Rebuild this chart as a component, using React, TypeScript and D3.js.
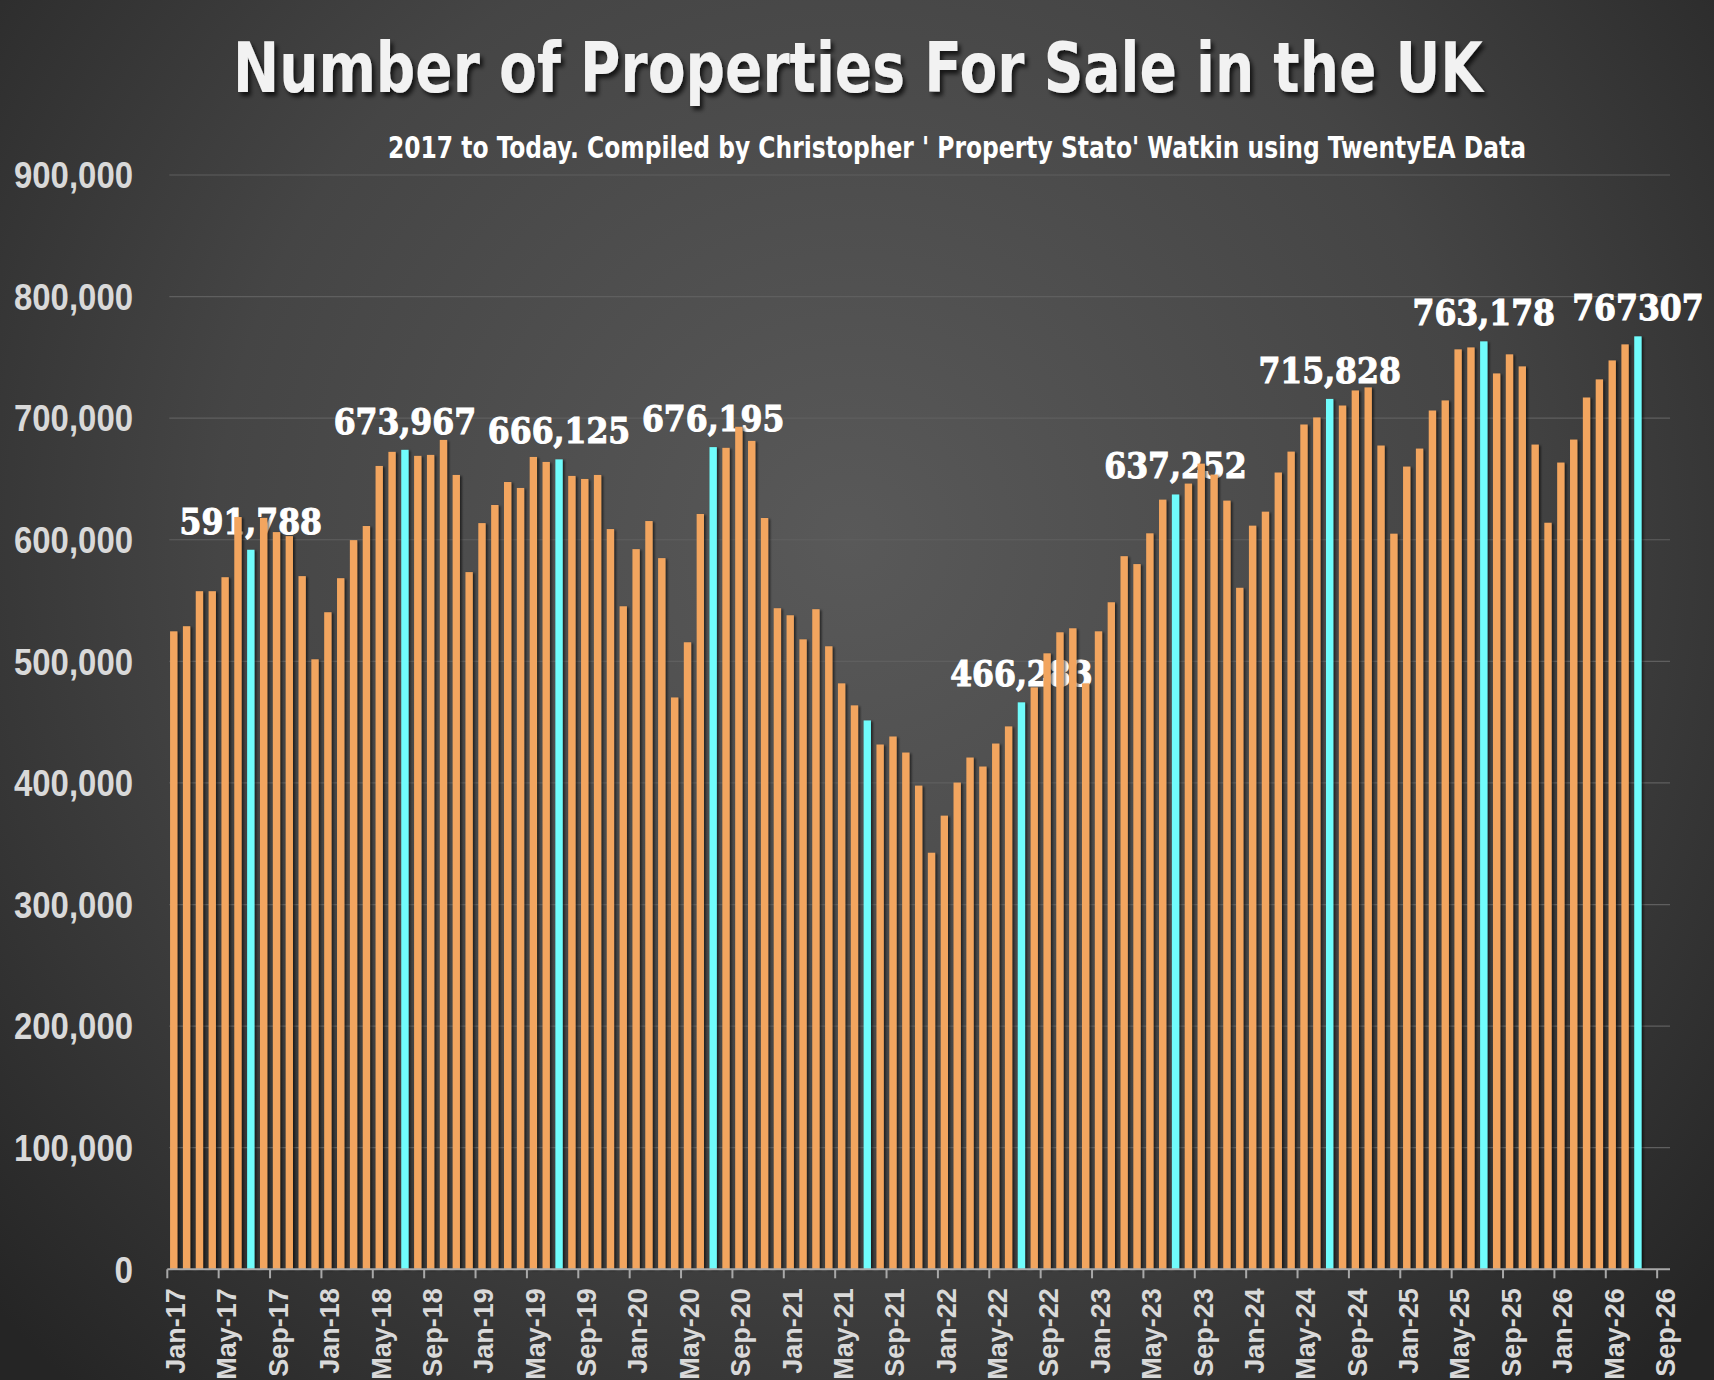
import React from 'react';
import { scaleBand, scaleLinear, utcMonth, utcFormat, format } from 'd3';

const W = 1714;
const H = 1380;

// monthly listings, Jan-17 .. Jul-26
const listings = [
  524700, 528900, 557700, 557700, 569200, 618700, 591788, 618000, 606300, 603000, 570100, 501700,
  540400, 568400, 599700, 611300, 660700, 672300, 673967, 669000, 669800, 682100, 653300, 573400,
  613700, 628600, 647500, 642600, 668100, 664000, 666125, 652500, 650000, 653300, 608800, 545300,
  592300, 615400, 584900, 470300, 515700, 621200, 676195, 675600, 692900, 681300, 617900, 543700,
  537900, 518100, 542900, 512400, 481900, 463800, 451400, 431600, 438200, 425000, 397800, 342600,
  373100, 400300, 420900, 413500, 432400, 446500, 466283, 478600, 506600, 523900, 527200, 481900,
  524700, 548600, 586500, 580000, 605300, 633000, 637252, 646200, 662600, 653600, 632200, 560500,
  611600, 623100, 655300, 672500, 694800, 700600, 715828, 710400, 722800, 725300, 677500, 605000,
  660200, 675000, 706300, 714600, 756600, 758200, 763178, 736800, 752500, 742600, 678300, 614000,
  663500, 682400, 717000, 731900, 747500, 760700, 767307,
];

// July bars are highlighted and labelled
const highlightLabels = [
  '591,788', '673,967', '666,125', '676,195', '', '466,283', '637,252', '715,828', '763,178', '767307',
];

const tickLabels = [
  'Jan-17', 'May-17', 'Sep-17', 'Jan-18', 'May-18', 'Sep-18', 'Jan-19', 'May-19', 'Sep-19',
  'Jan-20', 'May-20', 'Sep-20', 'Jan-21', 'May-21', 'Sep-21', 'Jan-22', 'May-22', 'Sep-22',
  'Jan-23', 'May-23', 'Sep-23', 'Jan-24', 'May-24', 'Sep-24', 'Jan-25', 'May-25', 'Sep-25',
  'Jan-26', 'May-26', 'Sep-26',
];

const yTicks = [0, 100000, 200000, 300000, 400000, 500000, 600000, 700000, 800000, 900000];

const fmtMonth = utcFormat('%b-%y');
const months = utcMonth
  .range(new Date(Date.UTC(2017, 0, 1)), new Date(Date.UTC(2026, 9, 1)))
  .map(d => fmtMonth(d));

const title = 'Number of Properties For Sale in the UK';
const subtitle = "2017 to Today. Compiled by Christopher ' Property Stato' Watkin using TwentyEA Data";

const x0 = 167.3;
const x1 = 1670;
const yBase = 1269.3;
const yTop = 175;

// narrow DIN-ish width for the y labels
const labelWidth = (s: string) => s.split('').reduce((w, c) => w + (c === ',' ? 8 : 18.5), 0);

const App: React.FC = () => {
  const slot = scaleBand<string>().domain(months).range([x0, x1]).padding(0);
  const xScale = scaleBand<string>().domain(months).range([x0, x1]).paddingInner(0.43).paddingOuter(0.215);
  const yScale = scaleLinear().domain([0, 900000]).range([yBase, yTop]);

  const bars = listings.map((v, i) => ({ month: months[i], value: v, july: i % 12 === 6 }));
  const labelled = bars.filter(b => b.july).map((b, k) => ({ ...b, text: highlightLabels[k] }));

  const headFont = "'DejaVu Sans Condensed', 'Liberation Sans', sans-serif";

  return (
    <div style={{ position: 'absolute', left: 0, top: 0, width: W, height: H }}>
      <svg width={W} height={H} style={{ display: 'block' }}>
        <defs>
          <radialGradient id="bg" gradientUnits="userSpaceOnUse" cx={850} cy={540} r={1150}>
            <stop offset="0" stopColor="#595959" />
            <stop offset="0.55" stopColor="#454545" />
            <stop offset="1" stopColor="#252525" />
          </radialGradient>
          <filter id="titleShadow" x="-10%" y="-30%" width="120%" height="160%">
            <feDropShadow dx="3" dy="4" stdDeviation="2" floodColor="#000" floodOpacity="0.7" />
          </filter>
          <filter id="barShadow" x="-50%" y="-5%" width="200%" height="110%">
            <feDropShadow dx="2" dy="1" stdDeviation="1" floodColor="#000" floodOpacity="0.55" />
          </filter>
        </defs>

        <rect width={W} height={H} fill="url(#bg)" />

        {/* gridlines */}
        {yTicks.slice(1).map(t => (
          <line key={t} x1={x0 + 2} x2={x1} y1={yScale(t)} y2={yScale(t)} stroke="#5f5f5f" strokeWidth={1.2} />
        ))}

        {/* y axis labels */}
        {yTicks.map(t => {
          const s = format(',')(t);
          return (
            <text key={t} x={133} y={yScale(t)} dy="0.36em" textAnchor="end" fill="#d9d9d9"
              fontFamily="'Liberation Sans', Arial, sans-serif" fontWeight="bold" fontSize={37}
              textLength={labelWidth(s)} lengthAdjust="spacingAndGlyphs">
              {s}
            </text>
          );
        })}

        {/* title */}
        <text x={858} y={92} textAnchor="middle" fill="#f2f2f2" fontFamily={headFont} fontWeight="bold"
          fontSize={70} textLength={1250} lengthAdjust="spacingAndGlyphs" filter="url(#titleShadow)">
          {title}
        </text>
        <text x={957} y={158} textAnchor="middle" fill="#ffffff" fontFamily={headFont} fontWeight="bold"
          fontSize={30} textLength={1138} lengthAdjust="spacingAndGlyphs">
          {subtitle}
        </text>

        {/* value labels (bars paint over them) */}
        {labelled.filter(d => d.text).map(d => (
          <text key={d.month} x={xScale(d.month)! + xScale.bandwidth() / 2} y={yScale(d.value) - 16}
            textAnchor="middle" fill="#ffffff" stroke="#ffffff" strokeWidth={1}
            fontFamily="'DejaVu Serif Condensed', 'DejaVu Serif', serif"
            fontStretch="condensed" fontWeight="bold" fontSize={35}>
            {d.text}
          </text>
        ))}

        {/* bars */}
        <g filter="url(#barShadow)">
          {bars.map(b => (
            <rect key={b.month} x={xScale(b.month)} y={yScale(b.value)} width={xScale.bandwidth()}
              height={yBase - yScale(b.value)} fill={b.july ? '#6ffcfc' : '#f2a55f'} />
          ))}
        </g>

        {/* x axis */}
        <line x1={x0} x2={x1} y1={yBase} y2={yBase} stroke="#a8a8a8" strokeWidth={2} />
        {tickLabels.map(t => {
          const tx = slot(t)!;
          return (
            <g key={t}>
              <line x1={tx} x2={tx} y1={yBase} y2={yBase + 9} stroke="#a8a8a8" strokeWidth={2} />
              <text transform={`translate(${tx + 8},${yBase + 19}) rotate(-90)`} textAnchor="end" dy="0.36em"
                fill="#d9d9d9" fontFamily="'Liberation Sans', Arial, sans-serif" fontWeight="bold" fontSize={27}>
                {t}
              </text>
            </g>
          );
        })}
      </svg>
    </div>
  );
};

export default App;
